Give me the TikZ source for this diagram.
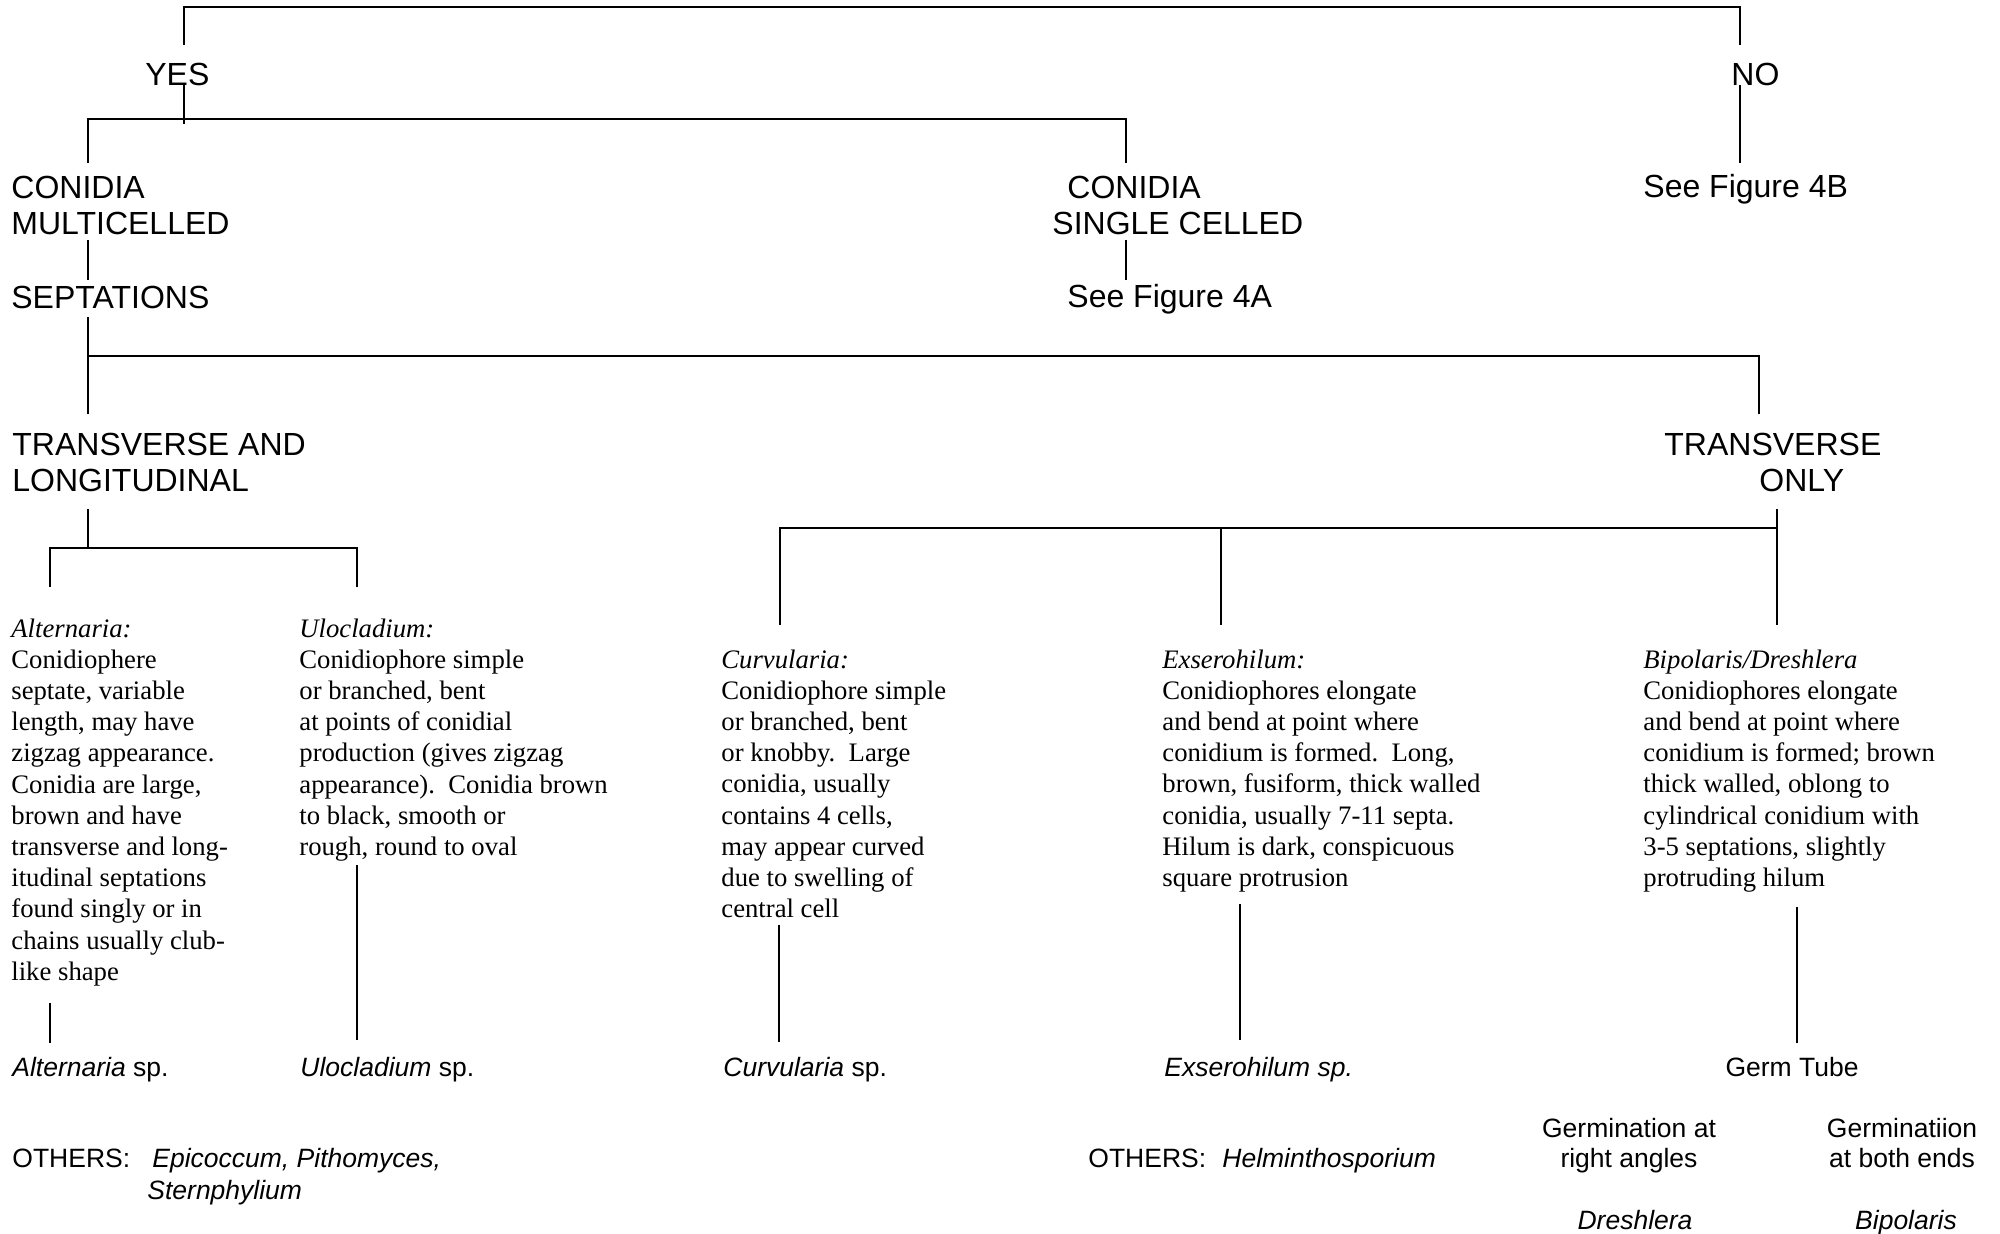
\documentclass[tikz,border=0pt]{standalone}
\usepackage{fontspec}
\setmainfont{Liberation Serif}
\setsansfont{Liberation Sans}
% multi-line text whose baseline is that of its first line
\newcommand\linesL[1]{\begin{tabular}[t]{@{}l@{}}#1\end{tabular}}
\newcommand\linesC[1]{\begin{tabular}[t]{@{}c@{}}#1\end{tabular}}
\begin{document}
\begin{tikzpicture}[x=0.5pt,y=-0.5pt,
  big/.style={font=\sffamily\fontsize{16}{18.3}\selectfont, inner sep=0pt, anchor=base west},
  small/.style={font=\sffamily\fontsize{13.25}{15}\selectfont, inner sep=0pt, anchor=base west},
  desc/.style={font=\rmfamily\fontsize{13.35}{15.6}\selectfont, inner sep=0pt, anchor=base west},
  link/.style={line width=0.6pt, line cap=rect}]
\useasboundingbox (0,0) rectangle (2000,1233);

% ---- upper key labels
\node[big] (yes) at (145,85) {YES};
\node[big] (no) at (1731,85) {NO};
\node[big] (multi) at (11,198) {\linesL{CONIDIA\\MULTICELLED}};
\node[big] (single) at (1052,198) {\linesL{\hspace{7.5pt}CONIDIA\\SINGLE CELLED}};
\node[big] (fig4b) at (1643,197) {See Figure 4B};
\node[big] (sept) at (11,308) {SEPTATIONS};
\node[big] (fig4a) at (1067,307) {See Figure 4A};
\node[big] (translong) at (12,455) {\linesL{TRANSVERSE AND\\LONGITUDINAL}};
\node[big] (transonly) at (1664,455) {\linesL{TRANSVERSE\\\hspace{47.5pt}ONLY}};

% ---- genus descriptions
\node[desc] (alt) at (11,637) {\linesL{\textit{Alternaria:}\\Conidiophere\\septate, variable\\length, may have\\zigzag appearance.\\Conidia are large,\\brown and have\\transverse and long-\\itudinal septations\\found singly or in\\chains usually club-\\like shape}};
\node[desc] (ulo) at (299,637) {\linesL{\textit{Ulocladium:}\\Conidiophore simple\\or branched, bent\\at points of conidial\\production (gives zigzag\\appearance).\ \ Conidia brown\\to black, smooth or\\rough, round to oval}};
\node[desc] (curv) at (721,668) {\linesL{\textit{Curvularia:}\\Conidiophore simple\\or branched, bent\\or knobby.\ \ Large\\conidia, usually\\contains 4 cells,\\may appear curved\\due to swelling of\\central cell}};
\node[desc] (exs) at (1162,668) {\linesL{\textit{Exserohilum:}\\Conidiophores elongate\\and bend at point where\\conidium is formed.\ \ Long,\\brown, fusiform, thick walled\\conidia, usually 7-11 septa.\\Hilum is dark, conspicuous\\square protrusion}};
\node[desc] (bip) at (1643,668) {\linesL{\textit{Bipolaris/Dreshlera}\\Conidiophores elongate\\and bend at point where\\conidium is formed; brown\\thick walled, oblong to\\cylindrical conidium with\\3-5 septations, slightly\\protruding hilum}};

% ---- identifications
\node[small] (altsp) at (12,1076) {\textit{Alternaria} sp.};
\node[small] (ulosp) at (300,1076) {\textit{Ulocladium} sp.};
\node[small] (curvsp) at (723,1076) {\textit{Curvularia} sp.};
\node[small] (exssp) at (1164,1076) {\textit{Exserohilum sp.}};
\node[small, anchor=base] (germ) at (1792,1076) {Germ Tube};
\node[small, anchor=base] (rightang) at (1629,1137) {\linesC{Germination at\\right angles}};
\node[small, anchor=base] (bothends) at (1902,1137) {\linesC{Germinatiion\\at both ends}};
\node[small, anchor=base] (dresh) at (1635,1229) {\textit{Dreshlera}};
\node[small, anchor=base] (bipol) at (1906,1229) {\textit{Bipolaris}};
\node[small] (othA) at (12,1167) {OTHERS:};
\node[small] (othAlist) at (152,1167) {\textit{Epicoccum, Pithomyces,}};
\node[small] (othAmore) at (147,1199) {\textit{Sternphylium}};
\node[small] (othB) at (1088,1167) {OTHERS:};
\node[small] (othBlist) at (1222,1167) {\textit{Helminthosporium}};

% ---- connector end points
\coordinate (rootL) at (184,7);
\coordinate (rootR) at (1740,7);
\coordinate (yesTop) at (184,44);
\coordinate (noTop) at (1740,44);
\coordinate (yesBot) at (184,86);
\coordinate (yesJoin) at (184,123);
\coordinate (noBot) at (1740,86);
\coordinate (fig4bTop) at (1740,162);
\coordinate (multiTop) at (88,162);
\coordinate (cellL) at (88,119);
\coordinate (cellR) at (1126,119);
\coordinate (singleTop) at (1126,162);
\coordinate (multiBot) at (88,241);
\coordinate (septTop) at (88,279);
\coordinate (singleBot) at (1126,241);
\coordinate (fig4aTop) at (1126,279);
\coordinate (septBot) at (88,318);
\coordinate (septL) at (88,356);
\coordinate (septR) at (1759,356);
\coordinate (translongTop) at (88,413);
\coordinate (transonlyTop) at (1759,413);
\coordinate (translongBot) at (88,510);
\coordinate (tlJoin) at (88,548);
\coordinate (tlL) at (50,548);
\coordinate (tlR) at (357,548);
\coordinate (altTop) at (50,586);
\coordinate (uloTop) at (357,586);
\coordinate (transonlyBot) at (1777,510);
\coordinate (toL) at (780,528);
\coordinate (toM) at (1221,528);
\coordinate (toR) at (1777,528);
\coordinate (curvTop) at (780,624);
\coordinate (exsTop) at (1221,624);
\coordinate (bipTop) at (1777,624);
\coordinate (altBot) at (50,1004);
\coordinate (altspTop) at (50,1042);
\coordinate (uloBot) at (357,866);
\coordinate (ulospTop) at (357,1039);
\coordinate (curvBot) at (779,926);
\coordinate (curvspTop) at (779,1041);
\coordinate (exsBot) at (1240,905);
\coordinate (exsspTop) at (1240,1039);
\coordinate (bipBot) at (1797,908);
\coordinate (germTop) at (1797,1042);

% ---- connectors
\draw[link] (yesTop) -- (rootL) -- (rootR) -- (noTop);
\draw[link] (yesBot) -- (yesJoin);
\draw[link] (multiTop) -- (cellL) -- (cellR) -- (singleTop);
\draw[link] (noBot) -- (fig4bTop);
\draw[link] (multiBot) -- (septTop);
\draw[link] (singleBot) -- (fig4aTop);
\draw[link] (septBot) -- (translongTop);
\draw[link] (septL) -- (septR) -- (transonlyTop);
\draw[link] (translongBot) -- (tlJoin);
\draw[link] (altTop) -- (tlL) -- (tlR) -- (uloTop);
\draw[link] (transonlyBot) -- (bipTop);
\draw[link] (curvTop) -- (toL) -- (toR);
\draw[link] (toM) -- (exsTop);
\draw[link] (altBot) -- (altspTop);
\draw[link] (uloBot) -- (ulospTop);
\draw[link] (curvBot) -- (curvspTop);
\draw[link] (exsBot) -- (exsspTop);
\draw[link] (bipBot) -- (germTop);
\end{tikzpicture}
\end{document}
